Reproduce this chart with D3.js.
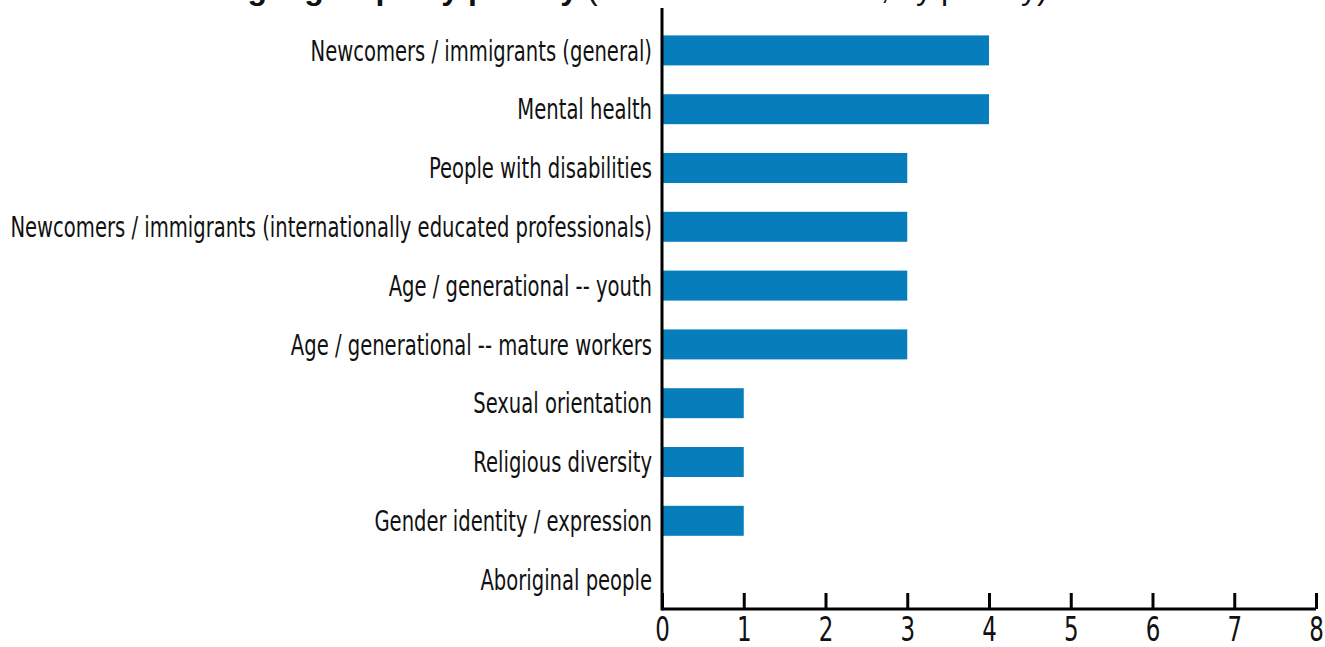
<!DOCTYPE html>
<html>
<head>
<meta charset="utf-8">
<script src="https://cdn.jsdelivr.net/npm/d3@7"></script>
<style>
  body { margin: 0; background: #fff; }
  svg { display: block; }
  text { font-family: "Liberation Sans Narrow", "DejaVu Sans Condensed", sans-serif; fill: #111; }
</style>
</head>
<body>
<svg class="target_groups" width="1325" height="647"></svg>
<script>
// categories, top to bottom
var categories = [
  "Newcomers / immigrants (general)",
  "Mental health",
  "People with disabilities",
  "Newcomers / immigrants (internationally educated professionals)",
  "Age / generational -- youth",
  "Age / generational -- mature workers",
  "Sexual orientation",
  "Religious diversity",
  "Gender identity / expression",
  "Aboriginal people"
];
var counts = [4, 4, 3, 3, 3, 3, 1, 1, 1, 0];
var xTicks = [0, 1, 2, 3, 4, 5, 6, 7, 8];

var svg = d3.select("svg.target_groups"),
    margin = {top: 21, right: 9, bottom: 38, left: 662},
    width = +svg.attr("width") - margin.left - margin.right,
    height = +svg.attr("height") - margin.top - margin.bottom,
    g = svg.append("g").attr("transform", "translate(" + margin.left + "," + margin.top + ")");

var x = d3.scaleLinear().domain([0, 8]).range([0, width]);
var y = d3.scaleBand().domain(categories).range([0, height]).paddingInner(0.49).paddingOuter(0.245);

// title, cut off at the top edge like the original
var title = svg.append("text")
    .attr("x", 200)
    .attr("y", -1)
    .style("font-family", "'Liberation Sans', sans-serif")
    .style("font-size", "32px");
title.append("tspan").style("font-weight", "bold").text("Target groups by priority ");
title.append("tspan").text("(number of mentions, by priority)");

g.selectAll(".bar")
  .data(counts)
  .enter().append("rect")
    .attr("class", "bar")
    .attr("x", x(0))
    .attr("y", function(d, i) { return y(categories[i]); })
    .attr("width", function(d) { return x(d) - x(0); })
    .attr("height", y.bandwidth())
    .attr("fill", "#087dbb");

// category labels, squeezed horizontally
var labels = g.selectAll(".label")
  .data(categories)
  .enter().append("text")
    .attr("class", "label")
    .style("font-size", "29px")
    .attr("text-anchor", "end")
    .attr("dy", "0.35em")
    .text(function(d) { return d; });

var longest = d3.max(labels.nodes(), function(n) { return n.getComputedTextLength(); });
var sx = 642 / longest;
labels.attr("transform", function(d) {
  return "translate(-10," + (y(d) + y.bandwidth() / 2) + ") scale(" + sx + ",1)";
});

// y axis line
g.append("line")
    .attr("x1", 0).attr("x2", 0)
    .attr("y1", -13).attr("y2", height + 1.5)
    .attr("stroke", "#000")
    .attr("stroke-width", 3);

// x axis with inward ticks
var xAxis = g.append("g")
    .attr("transform", "translate(0," + height + ")")
    .call(d3.axisBottom(x).tickValues(xTicks).tickSize(-16).tickPadding(0).tickFormat(d3.format("d")));

xAxis.select(".domain").attr("d", "M0,0H" + width).attr("stroke-width", 3);
xAxis.selectAll(".tick line").attr("stroke-width", 3);
xAxis.selectAll(".tick text")
    .attr("y", 0)
    .attr("dy", 0)
    .style("font-size", "34px")
    .style("font-family", "'Liberation Sans Narrow', 'DejaVu Sans Condensed', sans-serif")
    .attr("transform", "translate(0,32) scale(0.75,1)")
    .attr("fill", "#111");
</script>
</body>
</html>
